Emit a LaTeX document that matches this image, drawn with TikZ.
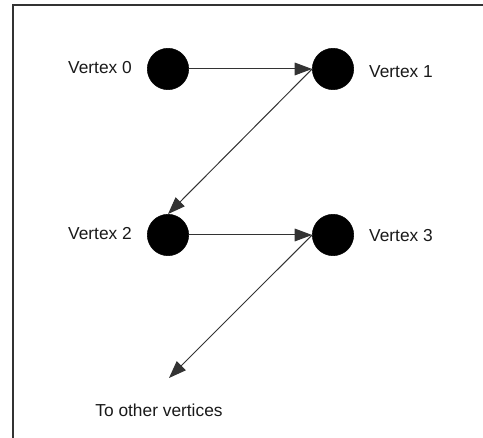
\documentclass[tikz,border=0pt]{standalone}
\usepackage{fontspec}
\setmainfont{Liberation Sans}
\usetikzlibrary{arrows.meta}
\begin{document}
\begin{tikzpicture}[x=0.75pt, y=0.75pt,
    every node/.style={font=\fontsize{13}{15}\selectfont},
    vertex/.style={circle, fill=black, draw=black, minimum size=31pt, inner sep=0pt},
    vlabel/.style={inner sep=1pt, text=black!90},
    edge/.style={-{Triangle[length=13pt, width=9.5pt]}, line width=0.75pt, black!80}]
  \useasboundingbox (0,0) rectangle (483,438);
  % frame: top and left edge only
  \draw[line width=1.5pt, black!80] (483,433) -- (13,433) -- (13,0);

  % vertices
  \node[vertex] (v0) at (168,369) {};
  \node[vertex] (v1) at (333,369) {};
  \node[vertex] (v2) at (168,203) {};
  \node[vertex] (v3) at (333,203) {};

  % labels
  \node[vlabel] (l0) at (100,370) {Vertex 0};
  \node[vlabel] (l1) at (401,366) {Vertex 1};
  \node[vlabel] (l2) at (100,204) {Vertex 2};
  \node[vlabel] (l3) at (401,202) {Vertex 3};
  \node[vlabel] (rest) at (159,28) {To other vertices};
  \coordinate (out) at (169,60);

  % edges
  \draw[edge] (v0) -- (v1.west);
  \draw[edge] (v1.west) -- (v2.north);
  \draw[edge] (v2) -- (v3.west);
  \draw[edge] (v3.west) -- (out);
\end{tikzpicture}
\end{document}
